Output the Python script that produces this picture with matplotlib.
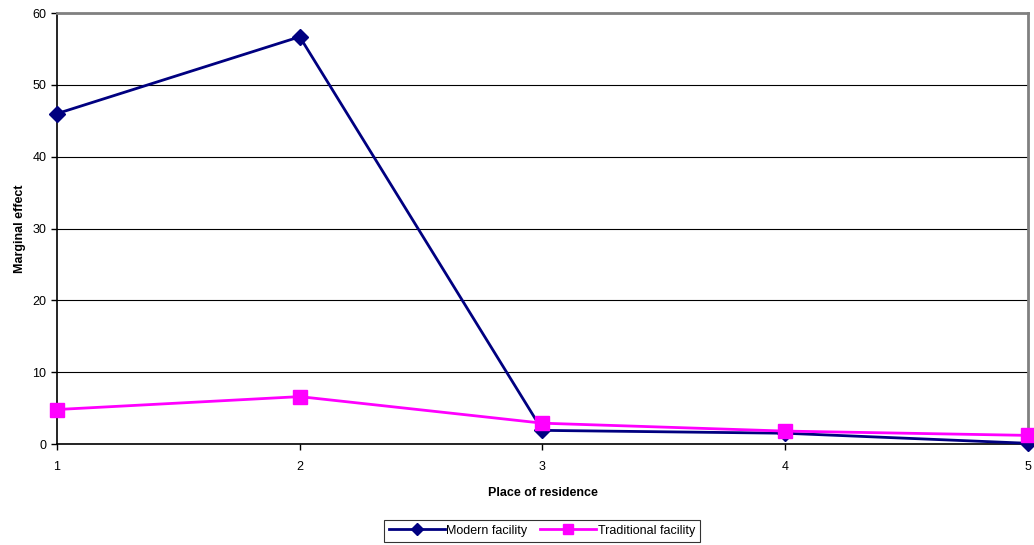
import matplotlib.pyplot as plt
from matplotlib.lines import Line2D

plt.rcParams['font.family'] = ['Liberation Sans', 'DejaVu Sans']

# Marginal effect by place of residence
places = [1, 2, 3, 4, 5]
modern = [46.0, 56.7, 1.9, 1.5, 0.1]
traditional = [4.8, 6.6, 2.9, 1.8, 1.2]

NAVY = '#000080'
MAGENTA = '#FF00FF'

fig = plt.figure(figsize=(10.34, 5.45), dpi=100)
ax = fig.add_axes([0.0551, 0.1853, 0.9391, 0.7907])

ax.plot(places, modern, color=NAVY, lw=2, marker='D', markersize=8,
        zorder=4, clip_on=False, label='Modern facility')
ax.plot(places, traditional, color=MAGENTA, lw=2, marker='s', markersize=10,
        zorder=5, clip_on=False, label='Traditional facility')

ax.set_xlim(1, 5)
ax.set_ylim(0, 60)
ax.set_xticks(places)
ax.set_yticks(range(0, 61, 10))
ax.tick_params(axis='both', labelsize=9, length=4, width=1, color='black')
ax.tick_params(axis='x', pad=8)
ax.yaxis.grid(True, color='black', lw=0.8)
ax.set_axisbelow(True)

for side in ('top', 'right'):
    ax.spines[side].set_color('#808080')
    ax.spines[side].set_linewidth(2)
for side in ('left', 'bottom'):
    ax.spines[side].set_color('black')
    ax.spines[side].set_linewidth(1.2)

ax.set_xlabel('Place of residence', fontsize=9, fontweight='bold', labelpad=10)
ax.set_ylabel('Marginal effect', fontsize=9, fontweight='bold', labelpad=5)

handles = [
    Line2D([], [], color=NAVY, lw=2, marker='D', markersize=6),
    Line2D([], [], color=MAGENTA, lw=2, marker='s', markersize=7),
]
leg = fig.legend(handles, ['Modern facility', 'Traditional facility'],
                 loc='center', bbox_to_anchor=(0.524, 0.026), ncol=2,
                 fontsize=9, frameon=True, fancybox=False, edgecolor='black',
                 handlelength=4.5, handletextpad=0.1, columnspacing=1.0,
                 borderpad=0.4)
leg.get_frame().set_linewidth(0.8)

fig.savefig('out.png', dpi=100)
